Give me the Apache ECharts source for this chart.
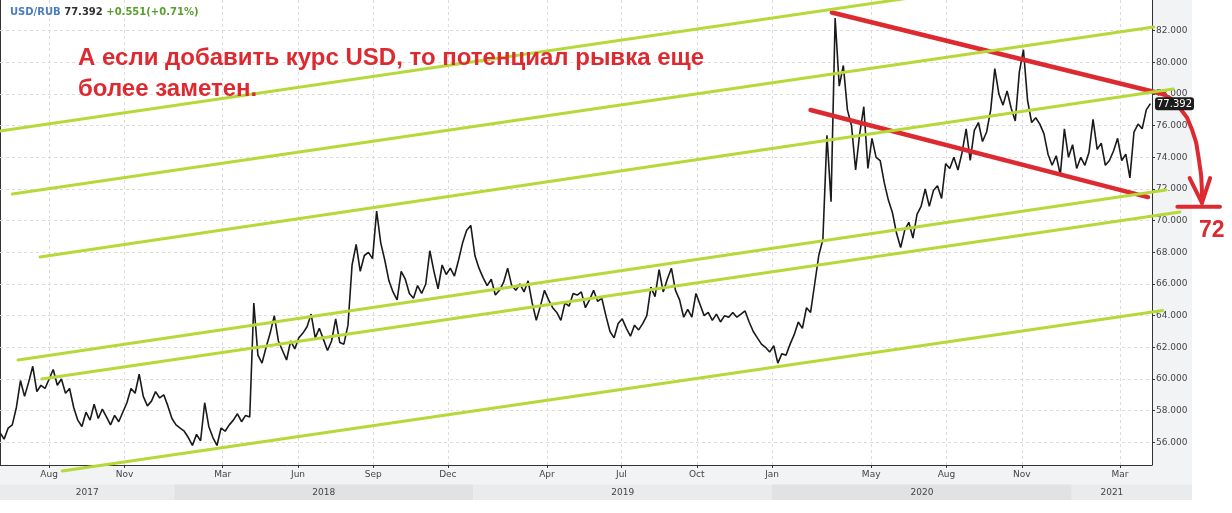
<!DOCTYPE html>
<html><head><meta charset="utf-8">
<script src="https://cdn.jsdelivr.net/npm/echarts@6/dist/echarts.min.js"></script>
<style>html,body{margin:0;padding:0;background:#fff}#c{width:1232px;height:513px}</style>
</head><body><div id="c"></div>
<script>
// ---------------- DATA ----------------
const pairName = 'USD/RUB';
const lastPrice = 77.392;
const priceChange = '+0.551(+0.71%)';
const startDate = '2017-06-02';
const endDate = '2021-04-09';
const stepDays = 5;
const closes = [
56.6,56.2,56.9,57.1,58.2,59.9,58.9,59.8,60.8,59.2,
59.6,59.4,60.0,60.6,59.6,60.0,59.1,59.4,58.2,57.4,
57.0,57.9,57.4,58.4,57.5,58.1,57.6,57.1,57.7,57.3,
57.9,58.5,59.4,59.1,60.3,58.9,58.3,58.6,59.2,58.8,
59.0,58.3,57.5,57.1,56.9,56.7,56.3,55.8,56.5,56.1,
58.5,57.0,56.3,55.8,56.9,56.7,57.1,57.4,57.8,57.3,
57.7,57.6,64.8,61.5,61.0,62.0,62.9,64.0,62.4,61.8,
61.2,62.4,61.9,62.6,62.9,63.3,64.1,62.6,63.2,62.5,
61.8,62.4,63.8,62.3,62.2,63.4,67.2,68.5,66.8,67.8,
68.0,67.6,70.6,68.6,67.5,66.2,65.5,65.0,66.8,66.3,
65.4,65.1,65.9,65.4,66.0,68.1,66.8,65.7,67.2,66.6,
67.0,66.5,67.5,68.6,69.4,69.7,67.8,67.0,66.4,65.9,
66.3,65.3,65.6,66.1,67.0,65.9,65.6,66.0,65.5,66.2,
64.8,63.7,64.6,65.6,65.0,64.5,64.2,63.7,64.8,64.6,
65.4,65.3,65.5,64.5,65.0,65.6,64.9,65.1,64.0,63.0,
62.6,63.5,63.8,63.2,62.7,63.4,63.1,63.5,64.0,65.8,
65.2,66.9,65.5,66.3,67.0,65.6,65.0,63.9,64.4,63.9,
65.4,64.7,64.0,64.2,63.7,64.1,63.6,64.0,63.9,64.2,
63.9,64.1,64.3,63.6,63.0,62.6,62.2,62.0,61.7,62.1,
61.0,61.6,61.5,62.2,62.8,63.6,63.2,64.5,64.2,66.0,
67.8,68.8,75.4,71.2,82.8,78.5,79.8,77.0,76.0,73.2,
75.5,77.2,73.3,75.2,74.0,73.8,72.4,71.3,70.5,69.2,
68.3,69.4,69.9,68.9,70.4,70.9,72.0,70.9,71.9,72.2,
71.4,73.6,73.3,74.0,73.2,74.3,75.8,73.8,75.7,76.2,
75.0,75.6,77.0,79.6,78.0,77.3,78.2,77.1,76.3,79.4,
80.8,77.6,76.2,76.5,76.1,75.5,74.2,73.5,74.1,72.9,
75.8,74.0,74.8,73.3,74.0,73.5,74.3,76.4,74.5,74.9,
73.5,73.8,74.4,75.2,73.8,74.2,72.7,75.6,76.1,75.8,
77.0,77.392
];
const yTicks = [56,58,60,62,64,66,68,70,72,74,76,78,80,82];
const monthTickDates = ['2017-08-01','2017-11-01','2018-03-01','2018-06-01','2018-09-01','2018-12-01','2019-04-01','2019-07-01','2019-10-01','2020-01-01','2020-05-01','2020-08-01','2020-11-01','2021-03-01'];
const monthTickLabels = ['Aug','Nov','Mar','Jun','Sep','Dec','Apr','Jul','Oct','Jan','May','Aug','Nov','Mar'];
const yearStarts = ['2017-06-02','2018-01-01','2019-01-01','2020-01-01','2021-01-01'];
const yearLabels = ['2017','2018','2019','2020','2021'];
// trend channel lines (green), endpoints [date, value]
const greenLineA = [['2017-06-02',75.66],['2020-06-17',84.07]];
const greenLineB = [['2017-06-17',71.68],['2021-04-11',82.23]];
const greenLineC = [['2017-07-21',67.70],['2021-05-05',78.32]];
const greenLineD = [['2017-06-24',61.20],['2021-04-26',71.94]];
const greenLineE = [['2017-07-23',60.00],['2021-05-13',70.55]];
const greenLineF = [['2017-08-17',54.19],['2021-04-22',64.33]];
// red wedge lines and arrow
const redUpper = [['2020-03-14',83.15],['2021-04-22',78.00]];
const redLower = [['2020-02-17',76.99],['2021-04-04',71.49]];
const arrowCurve = [['2021-04-22',78.00],['2021-05-03',77.69],['2021-05-13',77.12],['2021-05-22',76.49],['2021-05-28',75.73],['2021-06-02',74.91],['2021-06-05',73.96],['2021-06-08',72.88],['2021-06-09',71.94],['2021-06-09',71.12]];
const arrowHead = [['2021-05-25',72.69],['2021-06-09',71.12],['2021-06-19',72.69]];
const arrowBase = [['2021-05-10',70.88],['2021-07-01',70.88]];
const targetLabel = '72';
const annotation = 'А если добавить курс USD, то потенциал рывка еще\nболее заметен.';

// ---------------- BUILD ----------------
const ts = s => { const p = s.split('-').map(Number); return new Date(p[0], p[1]-1, p[2]).getTime(); };
const DAY = 86400000;
const t0 = ts(startDate), t1 = ts(endDate);
const tExt = t0 + (t1 - t0) * 1192 / 1152;
const priceData = closes.map((v, i) => [t0 + i * stepDays * DAY, v]);
const toPts = arr => arr.map(p => [ts(p[0]), p[1]]);
const monthTs = monthTickDates.map(ts);
const yearTs = yearStarts.map(ts);

const GREEN = '#b6d93a', RED = '#dd2a31';
const FONT = 'DejaVu Sans';
const overlay = (pts, color, width, z) => ({
  type: 'lines', coordinateSystem: 'cartesian2d', xAxisIndex: 0, yAxisIndex: 0,
  polyline: true, clip: false, silent: true, z: z,
  lineStyle: { color: color, width: width, opacity: 1, cap: 'round', join: 'round' },
  data: [{ coords: toPts(pts) }]
});

const yearAreas = [];
yearTs.forEach((s, i) => {
  const e = i < yearTs.length - 1 ? yearTs[i+1] : t1;
  yearAreas.push([
    { xAxis: s, yAxis: 0, name: yearLabels[i], itemStyle: { color: i % 2 ? '#e1e2e4' : '#eaebed' } },
    { xAxis: e, yAxis: 15.5 }
  ]);
});
yearAreas.push([{ xAxis: t1, yAxis: 0, name: '', itemStyle: { color: '#eaebed' } }, { xAxis: tExt, yAxis: 15.5 }]);

const chart = echarts.init(document.getElementById('c'), null, { renderer: 'canvas' });
chart.setOption({
  animation: false,
  backgroundColor: '#ffffff',
  title: [
    { left: 10, top: 7, padding: 0,
      text: '{a|' + pairName + '} {b|' + lastPrice.toFixed(3) + '} {c|' + priceChange + '}',
      textStyle: { fontSize: 10, fontFamily: FONT, rich: {
        a: { color: '#4a7dbf', fontWeight: 'bold', fontSize: 10, fontFamily: FONT },
        b: { color: '#333333', fontWeight: 'bold', fontSize: 10, fontFamily: FONT },
        c: { color: '#5a9e2e', fontWeight: 'bold', fontSize: 10, fontFamily: FONT } } } },
    { left: 78, top: 43, padding: 0, text: annotation,
      textStyle: { color: RED, fontSize: 24, fontWeight: 'bold', fontFamily: 'Liberation Sans', lineHeight: 31 } },
    { left: 1199, top: 219, padding: 0, text: targetLabel,
      textStyle: { color: RED, fontSize: 23, fontWeight: 'bold', fontFamily: 'Liberation Sans' } }
  ],
  grid: [
    { left: 0, top: 0, width: 1152, height: 465, outerBoundsMode: 'none' },
    { left: 0, top: 465, width: 1192, height: 35, show: true, backgroundColor: '#f2f3f5', borderWidth: 0, outerBoundsMode: 'none' },
    { left: 1152, top: 0, width: 40, height: 465, show: true, backgroundColor: '#f2f3f5', borderWidth: 0, outerBoundsMode: 'none' }
  ],
  xAxis: [
    { type: 'value', gridIndex: 0, min: t0, max: t1,
      axisLine: { show: true, lineStyle: { color: '#333', width: 1 } },
      axisTick: { show: true, customValues: monthTs, length: 3, lineStyle: { color: '#333' } },
      axisLabel: { show: true, customValues: monthTs, margin: 5, color: '#444', fontSize: 9, fontFamily: FONT,
        formatter: v => { const i = monthTs.indexOf(v); return i >= 0 ? monthTickLabels[i] : ''; } },
      splitLine: { show: false } },
    { type: 'value', gridIndex: 1, min: t0, max: tExt, show: false },
    { type: 'value', gridIndex: 2, min: 0, max: 1, show: false }
  ],
  yAxis: [
    { type: 'value', gridIndex: 0, position: 'right', min: 54.566, max: 83.939,
      axisLine: { show: true, lineStyle: { color: '#333', width: 1 } },
      axisTick: { show: true, customValues: yTicks, length: 3, lineStyle: { color: '#333' } },
      axisLabel: { show: true, customValues: yTicks, margin: 4, color: '#444', fontSize: 9, fontFamily: FONT,
        formatter: v => Number(v).toFixed(3) },
      splitLine: { show: false },
      axisPointer: { show: true, type: 'none', status: 'show', value: lastPrice, triggerTooltip: false, snap: false,
        label: { show: true, formatter: () => lastPrice.toFixed(3), backgroundColor: '#1c1c1c', color: '#fff',
          fontSize: 10, fontFamily: FONT, padding: [2, 2, 1, 2], margin: 3, borderWidth: 0 } } },
    { type: 'value', gridIndex: 0, position: 'left', min: 54.566, max: 83.939,
      axisLine: { show: true, lineStyle: { color: '#333', width: 1 } },
      axisTick: { show: false }, axisLabel: { show: false }, splitLine: { show: false } },
    { type: 'value', gridIndex: 1, min: 0, max: 35, show: false },
    { type: 'value', gridIndex: 2, min: 0, max: 1, show: false }
  ],
  series: [
    { type: 'line', name: 'grid', data: [], xAxisIndex: 0, yAxisIndex: 0, z: 1, silent: true,
      markLine: { z: 1, silent: true, symbol: ['none', 'none'], label: { show: false },
        lineStyle: { color: '#dcdcdc', type: [3, 3], width: 1 },
        data: yTicks.map(v => ({ yAxis: v })).concat(monthTs.map(t => ({ xAxis: t }))) } },
    { type: 'line', name: pairName, data: priceData, xAxisIndex: 0, yAxisIndex: 0, symbol: 'none', z: 3,
      lineStyle: { color: '#1a1a1a', width: 1.6 } },
    overlay(greenLineA, GREEN, 3, 5),
    overlay(greenLineB, GREEN, 3, 5),
    overlay(greenLineC, GREEN, 3, 5),
    overlay(greenLineD, GREEN, 3, 5),
    overlay(greenLineE, GREEN, 3, 5),
    overlay(greenLineF, GREEN, 3, 5),
    overlay(redUpper, RED, 4.5, 4),
    overlay(redLower, RED, 4.5, 4),
    overlay(arrowCurve, RED, 4, 4),
    overlay(arrowHead, RED, 4, 4),
    overlay(arrowBase, RED, 4, 4),
    { type: 'line', name: 'years', data: [], xAxisIndex: 1, yAxisIndex: 2, silent: true,
      markArea: { silent: true, label: { show: true, position: 'inside', color: '#444', fontSize: 9, fontFamily: FONT, formatter: '{b}' },
        data: yearAreas } }
  ]
});
</script></body></html>
